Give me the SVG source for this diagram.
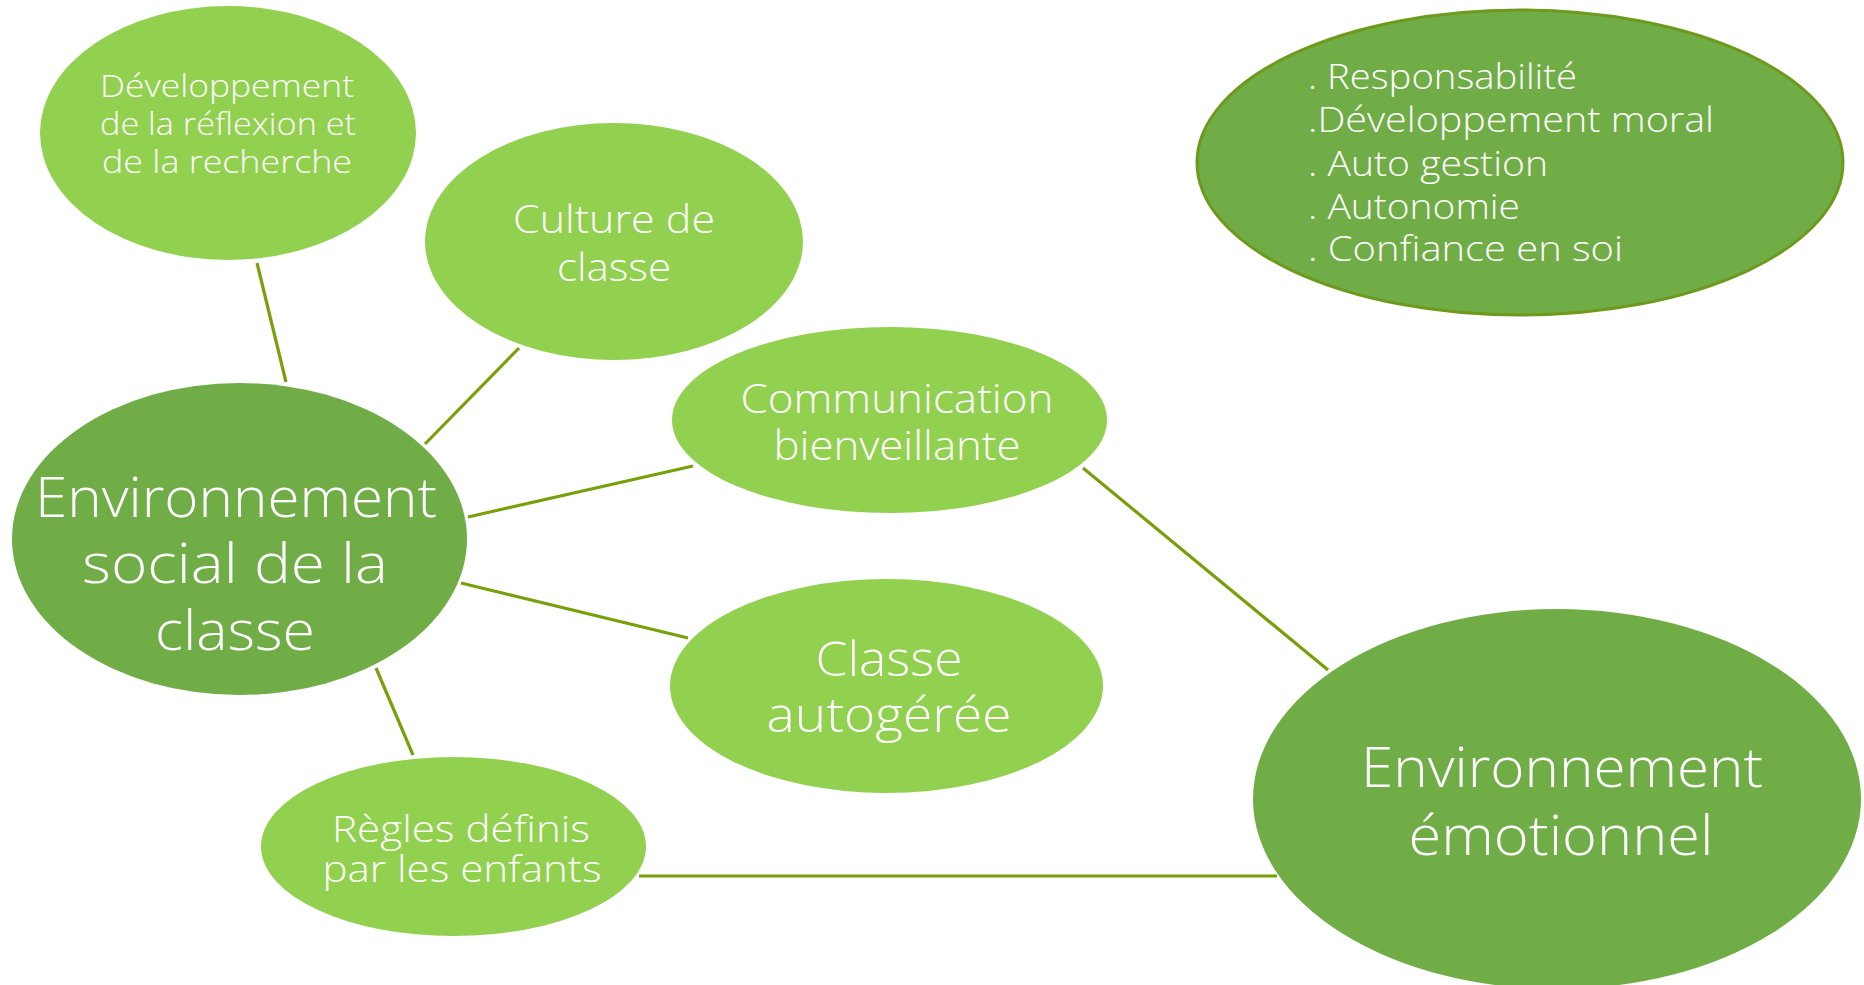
<svg xmlns="http://www.w3.org/2000/svg" width="1864" height="985" viewBox="0 0 1864 985">
<style>
.light{fill:#92D050;}
.dark{fill:#70AD47;}
.outlined{fill:#70AD47;stroke:#6E9A1C;stroke-width:3;}
.conn line{stroke:#77A00A;stroke-width:3.2;stroke-linecap:butt;}
text{font-family:"Open Sans","Liberation Sans",Arial,sans-serif;font-weight:300;fill:#FFFFFF;}
.c{text-anchor:middle;}
.l{text-anchor:start;}
</style>
<rect x="0" y="0" width="1864" height="985" fill="#FFFFFF"/>
<g id="connectors" class="conn">
  <line x1="257" y1="263" x2="286" y2="382"/>
  <line x1="519" y1="348" x2="425" y2="444"/>
  <line x1="693" y1="466" x2="468" y2="517"/>
  <line x1="688" y1="638" x2="461" y2="583"/>
  <line x1="376" y1="668" x2="413" y2="755"/>
  <line x1="639" y1="876" x2="1277" y2="876"/>
  <line x1="1083" y1="468" x2="1328" y2="670"/>
</g>
<g id="node-developpement">
  <ellipse class="light" cx="228" cy="133" rx="188" ry="127"/>
  <text class="c" x="227" y="97" font-size="31" textLength="254" lengthAdjust="spacingAndGlyphs">Développement</text>
  <text class="c" x="228" y="135" font-size="31" textLength="256" lengthAdjust="spacingAndGlyphs">de la réflexion et</text>
  <text class="c" x="227" y="173" font-size="31" textLength="250" lengthAdjust="spacingAndGlyphs">de la recherche</text>
</g>
<g id="node-culture">
  <ellipse class="light" cx="614" cy="241.5" rx="189" ry="118.5"/>
  <text class="c" x="614" y="233" font-size="39" textLength="202" lengthAdjust="spacingAndGlyphs">Culture de</text>
  <text class="c" x="614" y="281" font-size="39" textLength="114" lengthAdjust="spacingAndGlyphs">classe</text>
</g>
<g id="node-communication">
  <ellipse class="light" cx="889.5" cy="420" rx="217.5" ry="93"/>
  <text class="c" x="897" y="413" font-size="40" textLength="313" lengthAdjust="spacingAndGlyphs">Communication</text>
  <text class="c" x="897" y="460" font-size="40" textLength="247" lengthAdjust="spacingAndGlyphs">bienveillante</text>
</g>
<g id="node-classe-autogeree">
  <ellipse class="light" cx="886.5" cy="686" rx="216.5" ry="107"/>
  <text class="c" x="889" y="676" font-size="47" textLength="147" lengthAdjust="spacingAndGlyphs">Classe</text>
  <text class="c" x="889" y="732" font-size="47" textLength="245" lengthAdjust="spacingAndGlyphs">autogérée</text>
</g>
<g id="node-regles">
  <ellipse class="light" cx="453.5" cy="846.5" rx="192.5" ry="89.5"/>
  <text class="c" x="461" y="842" font-size="37" textLength="258" lengthAdjust="spacingAndGlyphs">Règles définis</text>
  <text class="c" x="462" y="882" font-size="37" textLength="279" lengthAdjust="spacingAndGlyphs">par les enfants</text>
</g>
<g id="node-environnement-social">
  <ellipse class="dark" cx="239.5" cy="539" rx="227.5" ry="156"/>
  <text class="c" x="236" y="517" font-size="56" textLength="402" lengthAdjust="spacingAndGlyphs">Environnement</text>
  <text class="c" x="235" y="583" font-size="56" textLength="306" lengthAdjust="spacingAndGlyphs">social de la</text>
  <text class="c" x="235" y="650" font-size="56" textLength="160" lengthAdjust="spacingAndGlyphs">classe</text>
</g>
<g id="node-environnement-emotionnel">
  <ellipse class="dark" cx="1557" cy="799" rx="304" ry="190"/>
  <text class="c" x="1562" y="787" font-size="56" textLength="402" lengthAdjust="spacingAndGlyphs">Environnement</text>
  <text class="c" x="1561" y="855" font-size="56" textLength="305" lengthAdjust="spacingAndGlyphs">émotionnel</text>
</g>
<g id="node-qualites">
  <ellipse class="outlined" cx="1520" cy="162.5" rx="323" ry="152.5"/>
  <text class="l" x="1308" y="89" font-size="35" textLength="269" lengthAdjust="spacingAndGlyphs">. Responsabilité</text>
  <text class="l" x="1308" y="132" font-size="35" textLength="406" lengthAdjust="spacingAndGlyphs">.Développement moral</text>
  <text class="l" x="1308" y="176" font-size="35" textLength="240" lengthAdjust="spacingAndGlyphs">. Auto gestion</text>
  <text class="l" x="1308" y="219" font-size="35" textLength="212" lengthAdjust="spacingAndGlyphs">. Autonomie</text>
  <text class="l" x="1308" y="261" font-size="35" textLength="315" lengthAdjust="spacingAndGlyphs">. Confiance en soi</text>
</g>
</svg>
